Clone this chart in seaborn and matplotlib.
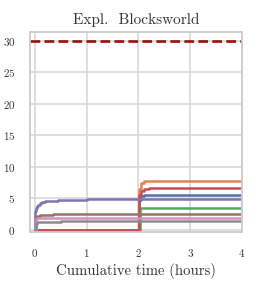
import numpy as np
import pandas as pd
import matplotlib
matplotlib.use("Agg")
import matplotlib.pyplot as plt
import seaborn as sns

# ---- data ----
blue_t   = [0.0, 2.0, 2.02, 2.05, 2.1, 4.0]
blue_v   = [0.0, 0.0, 4.8, 5.3, 5.5, 5.6]
orange_t = [0.0, 2.0, 2.02, 2.05, 2.1, 4.0]
orange_v = [0.0, 0.0, 6.5, 7.4, 7.7, 7.8]
green_t  = [0.0, 2.0, 2.03, 4.0]
green_v  = [0.0, 0.0, 3.5, 3.5]
red_t    = [0.0, 2.0, 2.02, 2.05, 2.1, 2.2, 4.0]
red_v    = [0.0, 0.0, 5.5, 6.2, 6.5, 6.7, 6.7]
purple_t = [0.0, 0.01, 0.02, 0.04, 0.06, 0.1, 0.15, 0.2, 0.3, 0.45, 0.7, 1.0, 2.0, 4.0]
purple_v = [0.0, 3.0, 3.5, 3.8, 4.0, 4.2, 4.4, 4.5, 4.65, 4.75, 4.8, 4.85, 4.9, 4.9]
brown_t  = [0.0, 0.02, 0.05, 0.1, 0.2, 0.35, 0.6, 4.0]
brown_v  = [0.0, 2.0, 2.2, 2.3, 2.4, 2.45, 2.5, 2.5]
pink_t   = [0.0, 0.02, 0.05, 0.15, 4.0]
pink_v   = [0.0, 1.7, 1.85, 1.95, 1.95]
grey_t   = [0.0, 0.02, 0.05, 0.15, 0.5, 4.0]
grey_v   = [0.0, 1.0, 1.2, 1.3, 1.4, 1.4]
limit_value = 30

runs = ["blue", "orange", "green", "red", "purple", "brown", "pink", "grey"]
series = {
    "blue": (blue_t, blue_v), "orange": (orange_t, orange_v),
    "green": (green_t, green_v), "red": (red_t, red_v),
    "purple": (purple_t, purple_v), "brown": (brown_t, brown_v),
    "pink": (pink_t, pink_v), "grey": (grey_t, grey_v),
}
df = pd.concat(
    [pd.DataFrame({"time": t, "value": v, "run": r}) for r, (t, v) in series.items()],
    ignore_index=True,
)

sns.set_theme(style="whitegrid")
plt.rcParams["font.family"] = ["cmr10", "DejaVu Serif"]
plt.rcParams["axes.formatter.use_mathtext"] = True
plt.rcParams["mathtext.fontset"] = "cm"

fig = plt.figure(figsize=(2.62, 2.87), dpi=100)
ax = fig.add_axes([0.1145, 0.1916, 0.8095, 0.697])

sns.lineplot(data=df, x="time", y="value", hue="run", hue_order=runs,
             palette="deep", estimator=None, legend=False, lw=1.8,
             drawstyle="steps-post", ax=ax)
ax.axhline(limit_value, color="#9a0e0e", ls="--", lw=1.9)

ax.set_xlim(-0.09, 4.0)
ax.set_ylim(-0.35, 31.4)
ax.set_xticks([0, 1, 2, 3, 4])
ax.set_yticks([0, 5, 10, 15, 20, 25, 30])
ax.tick_params(labelsize=8, colors="#333333", length=0)
ax.tick_params(axis="y", pad=10.5)
ax.tick_params(axis="x", pad=10.5)
for s in ax.spines.values():
    s.set_color("#cccccc")
    s.set_linewidth(1.3)
ax.grid(color="#d5d5d5", lw=1.1)
ax.set_xlabel("Cumulative time (hours)", fontsize=10.6, color="#333333", labelpad=3)
ax.set_ylabel("")
ax.set_title("Expl.  Blocksworld", fontsize=11, color="#333333", pad=6)

fig.savefig("out.png", dpi=100)
